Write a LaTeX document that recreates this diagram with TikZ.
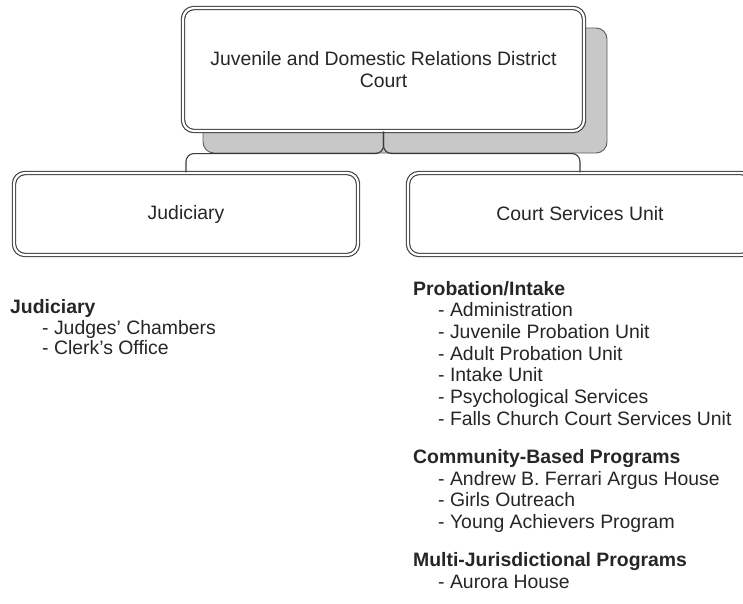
\documentclass[tikz,border=0pt]{standalone}
\usepackage{fontspec}
\setmainfont{Liberation Sans}
\definecolor{boxline}{HTML}{3A3A3A}
\definecolor{shadefill}{HTML}{C8C8C8}
\definecolor{shadeline}{HTML}{5A5A5A}
\definecolor{txt}{HTML}{262626}
\begin{document}
\begin{tikzpicture}[x=1pt,y=-1pt,
  orgbox/.style={draw=boxline, double=white, double distance=2.2pt, line width=1.1pt,
    rounded corners=11pt, fill=white, inner sep=0pt, align=center, text=txt,
    font=\fontsize{19.4}{22}\selectfont},
  shadebox/.style={draw=shadeline, fill=shadefill, line width=0.9pt, rounded corners=11pt, inner sep=0pt},
  conn/.style={draw=boxline, line width=1.1pt, rounded corners=8pt},
  head/.style={anchor=base west, inner sep=0pt, text=txt, font=\fontsize{19.4}{22}\selectfont\bfseries},
  item/.style={anchor=base west, inner sep=0pt, text=txt, font=\fontsize{19.4}{22}\selectfont}]
\clip (0,0) rectangle (743,603);
\fill[white] (0,0) rectangle (743,603);
% shadow of top box
\node[shadebox, minimum width=404pt, minimum height=125pt] (shd) at (405,90.5) {};
% boxes
\node[orgbox, minimum width=401pt, minimum height=123pt] (top) at (383.5,69.5)
  {Juvenile and Domestic Relations District\\Court};
\node[orgbox, minimum width=344pt, minimum height=82pt] (jud) at (186,214) {Judiciary};
\node[orgbox, minimum width=344pt, minimum height=82pt] (csu) at (580,214) {Court Services Unit};
% connectors
\draw[conn] (top.south) -- ++(0,22) -| (jud.north);
\draw[conn] (top.south) -- ++(0,22) -| (csu.north);
% left list
\node[head] (lh) at (10,313) {Judiciary};
\node[item] (l1) at (42,334) {- Judges' Chambers};
\node[item] (l2) at (42,354.5) {- Clerk's Office};
% right lists
\node[head] (ph) at (413,295) {Probation/Intake};
\node[item] (p1) at (438,316.7) {- Administration};
\node[item] (p2) at (438,338.3) {- Juvenile Probation Unit};
\node[item] (p3) at (438,360) {- Adult Probation Unit};
\node[item] (p4) at (438,381.7) {- Intake Unit};
\node[item] (p5) at (438,403.3) {- Psychological Services};
\node[item] (p6) at (438,425) {- Falls Church Court Services Unit};
\node[head] (ch) at (413,463.3) {Community-Based Programs};
\node[item] (c1) at (438,485) {- Andrew B. Ferrari Argus House};
\node[item] (c2) at (438,506.7) {- Girls Outreach};
\node[item] (c3) at (438,528.3) {- Young Achievers Program};
\node[head] (mh) at (413,566.7) {Multi-Jurisdictional Programs};
\node[item] (m1) at (438,588.3) {- Aurora House};
\end{tikzpicture}
\end{document}
